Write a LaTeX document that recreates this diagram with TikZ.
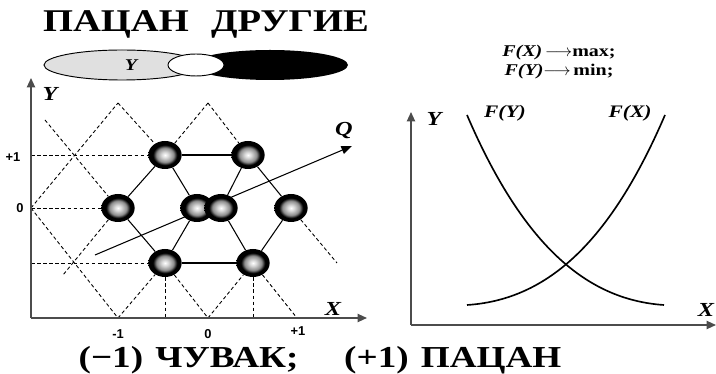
\documentclass[tikz,border=0pt]{standalone}
\usepackage{fontspec}
\setmainfont[FakeStretch=1.22]{Liberation Serif}
\setsansfont{Liberation Sans}
\usetikzlibrary{arrows.meta,shapes.geometric,positioning,backgrounds}
\pgfdeclareradialshading{atomshade}{\pgfpoint{0bp}{0bp}}{%
  color(0bp)=(white); color(5bp)=(white!85!black);
  color(13bp)=(black!45); color(18bp)=(black); color(50bp)=(black)}
\begin{document}
\begin{tikzpicture}[
  x=0.03cm, y=-0.03cm,
  axis/.style={
    line width=1.4pt, black!70,
    -{Triangle[length=8pt,width=7pt]}},
  grid/.style={
    dash pattern=on 3pt off 2.2pt,
    line width=0.75pt},
  bond/.style={line width=0.9pt},
  curve/.style={line width=1.4pt},
  atom/.style={
    ellipse, minimum width=1.0cm,
    minimum height=0.84cm, inner sep=0pt,
    shading=atomshade},
  lbl/.style={font=\fontsize{17}{19}\selectfont\bfseries\itshape},
  tick/.style={font=\sffamily\bfseries\fontsize{11}{12}\selectfont},
  title/.style={font=\fontsize{27}{30}\selectfont\bfseries}
]
\useasboundingbox (0,0) rectangle (716,374);

\node[title] (head) at (206,24)
  {ПАЦАН\hspace{0.4em} ДРУГИЕ};

\fill[black!12] (122,65) ellipse [x radius=78, y radius=15];
\draw[line width=0.8pt] (122,65) ellipse [x radius=78, y radius=15];
\fill[black] (270,65) ellipse [x radius=78, y radius=15];
\draw[fill=white, line width=0.8pt]
  (196,65) ellipse [x radius=28, y radius=11];
\node[lbl, font=\fontsize{14}{16}\selectfont\bfseries\itshape]
  (ylab) at (131,65) {Y};

\node[atom] (a1) at (165,155) {};
\node[atom] (a2) at (248,155) {};
\node[atom] (c1) at (118,208) {};
\node[atom] (c2) at (197,208) {};
\node[atom] (c3) at (221,208) {};
\node[atom] (c4) at (291,208) {};
\node[atom] (g1) at (165,263) {};
\node[atom] (g2) at (253,263) {};

\coordinate (t1) at (118,103);
\coordinate (t2) at (208,103);
\coordinate (l1) at (45,120);
\coordinate (y0) at (31,208);
\coordinate (h1) at (31,155);
\coordinate (h2) at (31,263);
\coordinate (b1) at (118,318);
\coordinate (b2) at (208,318);
\coordinate (b3) at (297,318);
\coordinate (v1) at (165,318);
\coordinate (v2) at (253,318);
\coordinate (e1) at (63,275);
\coordinate (e2) at (337,263);
\coordinate (o1) at (31,318);
\coordinate (q0) at (95,255);
\coordinate (q1) at (352,146);

\begin{scope}[on background layer]
\foreach \p/\q in {l1/c1,g1/b2,y0/b1,y0/t1,t1/a1,g2/b3,
  t2/a1,c1/e1,t2/a2,c4/e2,b1/g1,b2/g2,h1/a1,y0/c1,h2/g1,
  g1/v1,g2/v2}
  \draw[grid] (\p) -- (\q);
\foreach \p/\q in {a1/a2,g1/g2,a1/c1,a1/c2,a2/c3,a2/c4,
  c1/g1,c2/g1,c3/g2,c4/g2}
  \draw[bond] (\p) -- (\q);
\draw[bond, -{Triangle[length=9pt,width=7pt]}] (q0) -- (q1);
\end{scope}

\draw[axis] (o1) -- (31,78);
\draw[axis] (o1) -- (367,318);
\node[lbl] (qlab) at (344,131) {Q};
\node[lbl] (yax1) at (50,94) {Y};
\node[lbl] (xax1) at (333,309) {X};
\node[tick] (k1) at (13,157) {+1};
\node[tick] (k0) at (20,208) {0};
\node[tick] (m1) at (118,334) {-1};
\node[tick] (m0) at (208,334) {0};
\node[tick] (m2) at (298,331) {+1};

\coordinate (o2) at (411,325);
\coordinate (fy0) at (467,115);
\coordinate (fy1) at (664,305);
\coordinate (fx0) at (467,305);
\coordinate (fx1) at (665,115);
\draw[axis] (o2) -- (411,112);
\draw[axis] (o2) -- (716,325);
\draw[curve] (fy0) .. controls (525,250) and (590,300) .. (fy1);
\draw[curve] (fx0) .. controls (542,300) and (607,250) .. (fx1);
\node[lbl] (yax2) at (434,119) {Y};
\node[lbl] (xax2) at (706,310) {X};
\node[lbl, font=\fontsize{15}{17}\selectfont\bfseries\itshape]
  (fylab) at (505,113) {F(Y)};
\node[lbl, font=\fontsize{15}{17}\selectfont\bfseries\itshape]
  (fxlab) at (630,113) {F(X)};
\node[font=\fontsize{14}{15}\selectfont\bfseries] (goal1) at (559,53)
  {\textit{F(X)}\,$\longrightarrow$max;};
\node[font=\fontsize{14}{15}\selectfont\bfseries] (goal2) at (559,72)
  {\textit{F(Y)}$\longrightarrow$\,min;};

\node[title, font=\fontsize{26}{28}\selectfont\bfseries] (foot)
  at (320,360) {(−1)\hspace{0.4em}ЧУВАК;\hspace{1.5em}(+1)\hspace{0.4em}ПАЦАН};
\end{tikzpicture}
\end{document}
